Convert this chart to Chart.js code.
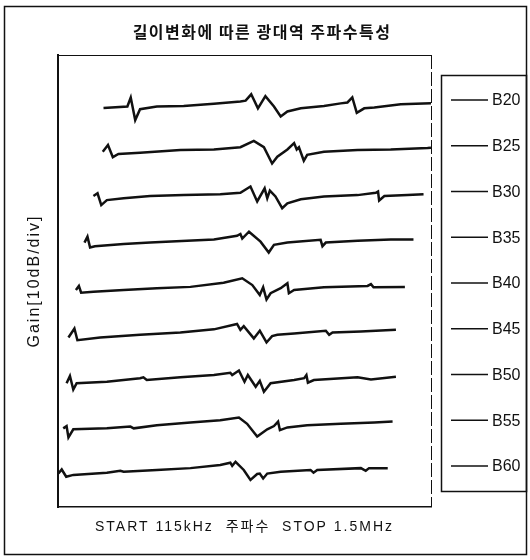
<!DOCTYPE html>
<html>
<head>
<meta charset="utf-8">
<script src="https://cdn.jsdelivr.net/npm/chart.js@4.4.1/dist/chart.umd.min.js"></script>
<style>
  html, body { margin: 0; padding: 0; background: #fff; }
  #wrap { position: relative; width: 530px; height: 560px; }
</style>
</head>
<body>
<div id="wrap"><canvas id="chart"></canvas></div>
<script>
const chartTitle = "길이변화에 따른 광대역 주파수특성";
const yTitle = "Gain[10dB/div]";
const xTitle = "START 115kHz  주파수  STOP 1.5MHz";
const seriesLabels = ["B20", "B25", "B30", "B35", "B40", "B45", "B50", "B55", "B60"];

// traces: [x (% of sweep), level (% of screen height)]
const b20 = [[12.2,88.3],[18.6,88.6],[19.5,90.6],[20.7,85.6],[22.0,88.0],[26.5,88.6],[33.7,88.7],[41.8,89.2],[48.9,89.7],[50.3,89.9],[51.8,91.3],[53.6,88.2],[55.6,90.9],[57.9,88.6],[59.7,86.4],[61.5,87.5],[65.1,88.2],[71.3,88.7],[75.8,89.3],[77.6,89.5],[78.9,90.6],[80.1,87.2],[82.1,88.2],[84.8,88.4],[91.9,89.1],[100,89.3]];
const b25 = [[12.0,78.6],[13.4,80.1],[14.7,77.4],[16.2,78.1],[22.0,78.4],[32.8,79.0],[41.8,79.1],[48.9,79.6],[52.5,81.0],[55.2,79.6],[57.4,76.0],[58.8,77.5],[61.5,79.1],[63.3,80.5],[64.0,79.1],[64.6,79.6],[65.9,76.6],[66.8,77.9],[71.3,78.6],[80.3,79.0],[89.2,79.1],[99.1,79.4],[100,79.5]];
const b30 = [[9.5,68.8],[10.6,69.4],[11.6,66.8],[13.1,67.9],[17.6,68.3],[24.7,68.8],[33.7,69.0],[43.5,69.2],[48.9,69.5],[51.6,70.9],[53.4,67.6],[55.4,70.5],[56.1,68.3],[56.8,70.0],[58.3,68.7],[60.1,66.1],[61.5,67.2],[65.1,68.1],[71.3,68.7],[80.3,69.0],[85.2,69.5],[85.8,69.8],[86.1,67.8],[87.5,68.8],[93.7,69.0],[98.0,69.2]];
const b35 = [[7.1,58.5],[7.9,59.8],[8.6,57.4],[9.9,57.7],[17.6,58.2],[24.7,58.5],[34.6,58.9],[41.8,59.2],[48.0,60.0],[48.9,60.4],[49.4,59.4],[51.2,60.9],[54.3,58.7],[56.5,56.3],[57.9,58.0],[61.5,58.5],[70.4,59.1],[70.9,57.7],[71.8,58.5],[80.3,58.9],[89.2,59.2],[95.3,59.2]];
const b40 = [[4.8,48.0],[5.6,48.9],[6.2,47.4],[9.5,47.6],[17.6,48.0],[26.5,48.4],[35.5,48.7],[44.4,49.6],[49.4,50.6],[52.1,49.1],[54.1,46.9],[55.0,48.6],[55.9,45.9],[57.0,47.3],[59.7,48.4],[61.5,49.5],[61.9,47.3],[63.3,48.0],[71.3,48.6],[83.0,48.9],[83.9,49.3],[84.6,48.6],[93.0,48.7]];
const b45 = [[2.8,37.5],[4.4,39.5],[5.2,36.9],[11.3,37.5],[22.0,38.1],[32.8,38.6],[41.8,39.3],[48.0,40.5],[48.9,39.2],[49.8,40.0],[52.5,37.3],[54.1,39.0],[55.9,36.4],[57.4,37.8],[58.8,38.1],[63.3,38.4],[71.8,39.0],[72.7,38.1],[73.6,38.6],[81.2,38.8],[90.6,39.2]];
const b50 = [[2.3,27.4],[3.2,29.0],[4.1,26.0],[5.0,27.4],[13.1,27.7],[22.0,28.5],[22.9,28.7],[23.8,28.1],[32.8,28.7],[41.8,29.2],[46.2,29.7],[46.7,29.2],[48.5,30.2],[50.0,27.7],[50.9,29.2],[53.0,26.6],[54.1,27.9],[55.2,25.5],[57.0,27.4],[63.3,28.1],[66.0,28.5],[66.6,29.2],[67.0,27.5],[68.6,28.1],[80.3,28.7],[83.9,28.2],[90.6,28.8]];
const b55 = [[1.4,17.4],[2.3,17.9],[2.8,15.4],[4.1,17.2],[13.1,17.4],[19.4,17.8],[20.3,17.4],[26.5,18.1],[35.5,18.7],[43.5,19.2],[48.5,19.8],[50.7,18.4],[53.4,15.6],[56.1,17.2],[57.9,17.9],[59.0,18.9],[59.5,17.0],[61.5,17.6],[66.8,18.1],[75.8,18.4],[84.8,18.7],[89.7,18.9]];
const b60 = [[0.1,7.4],[1.0,8.3],[2.2,6.7],[4.1,7.1],[13.1,7.6],[16.7,8.0],[17.6,7.8],[26.5,8.2],[35.5,8.6],[43.5,9.3],[46.2,9.8],[46.7,9.1],[47.6,10.0],[49.8,8.2],[51.6,6.0],[53.4,7.3],[54.1,7.4],[55.0,6.3],[56.1,7.4],[59.7,7.8],[67.7,8.2],[68.5,7.6],[69.5,8.2],[81.2,8.6],[82.5,8.0],[83.4,8.6],[88.4,8.6]];

const traces = [b20, b25, b30, b35, b40, b45, b50, b55, b60];

// frame, heading, plot box top/right edges and the boxed legend
const paperPlugin = {
  id: "paper",
  beforeDraw(chart) {
    const ctx = chart.ctx;
    ctx.fillStyle = "#fff";
    ctx.fillRect(0, 0, chart.width, chart.height);
    // axis titles on the original are spaced out a bit
    ctx.letterSpacing = "2px";
  },
  beforeDatasetsDraw(chart) {
    chart.ctx.letterSpacing = "0px";
  },
  afterDraw(chart) {
    const ctx = chart.ctx;
    const a = chart.chartArea;
    ctx.save();
    ctx.strokeStyle = "#111";

    // outer frame
    ctx.lineWidth = 1.5;
    ctx.strokeRect(4.5, 6.5, 522, 548);

    // top and right edge of the plot box
    ctx.lineWidth = 1;
    ctx.beginPath();
    ctx.moveTo(a.left, a.top + 0.5);
    ctx.lineTo(a.right, a.top + 0.5);
    ctx.stroke();
    ctx.setLineDash([14, 3]);
    ctx.beginPath();
    ctx.moveTo(a.right + 0.5, a.top);
    ctx.lineTo(a.right + 0.5, a.bottom);
    ctx.stroke();
    ctx.setLineDash([]);

    // heading
    ctx.fillStyle = "#111";
    ctx.font = "bold 16px 'Noto Sans CJK KR'";
    ctx.letterSpacing = "1.5px";
    ctx.textAlign = "center";
    ctx.textBaseline = "middle";
    ctx.fillText(chartTitle, 262, 32);
    ctx.letterSpacing = "0px";

    // legend box
    const box = { x: 441, y: 75, w: 85, h: 416 };
    ctx.lineWidth = 1.5;
    ctx.strokeRect(box.x + 0.5, box.y + 0.5, box.w, box.h);
    ctx.font = "16px 'Liberation Sans', Arial, sans-serif";
    ctx.textAlign = "left";
    chart.data.datasets.forEach((ds, i) => {
      const y = 100 + i * 45.75;
      ctx.strokeStyle = ds.borderColor;
      ctx.lineWidth = 1.5;
      ctx.beginPath();
      ctx.moveTo(451, y);
      ctx.lineTo(488, y);
      ctx.stroke();
      ctx.fillText(ds.label, 492, y + 1);
    });
    ctx.restore();
  }
};

new Chart(document.getElementById("chart"), {
  type: "line",
  data: {
    datasets: traces.map((t, i) => ({
      label: seriesLabels[i],
      data: t.map(p => ({ x: p[0], y: p[1] })),
      borderColor: "#111",
      borderWidth: 2.5,
      pointRadius: 0,
      tension: 0,
      fill: false
    }))
  },
  options: {
    responsive: true,
    maintainAspectRatio: false,
    animation: false,
    devicePixelRatio: 1,
    layout: { padding: { left: 24, right: 99, top: 55, bottom: 14.6 } },
    plugins: {
      legend: { display: false },
      tooltip: { enabled: false }
    },
    scales: {
      x: {
        type: "linear",
        min: 0,
        max: 100,
        ticks: { display: false },
        grid: { display: false, drawTicks: false },
        border: { display: true, color: "#111", width: 1.5 },
        title: {
          display: true,
          text: xTitle,
          color: "#111",
          font: { family: "'Liberation Sans', 'Noto Sans CJK KR', sans-serif", size: 14 },
          padding: { top: 11.6, bottom: 10 }
        }
      },
      y: {
        type: "linear",
        min: 0,
        max: 100,
        ticks: { display: false },
        grid: { display: false, drawTicks: false },
        border: { display: true, color: "#111", width: 2 },
        title: {
          display: true,
          text: yTitle,
          color: "#111",
          font: { family: "'Liberation Sans', Arial, sans-serif", size: 16 },
          padding: { top: 1.4, bottom: 13.4 }
        }
      }
    }
  },
  plugins: [paperPlugin]
});
</script>
</body>
</html>
